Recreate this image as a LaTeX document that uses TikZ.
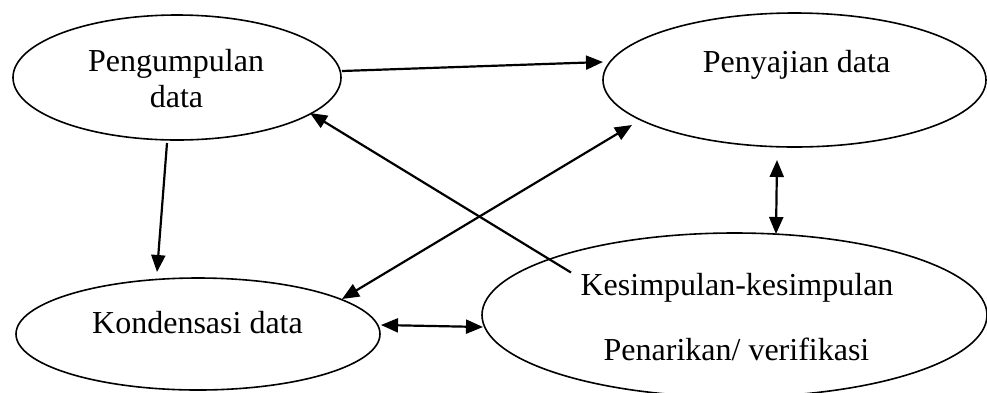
\documentclass[tikz,border=0pt]{standalone}
\usepackage{fontspec}
\setmainfont{Liberation Serif}
\usetikzlibrary{arrows.meta,calc,shapes.geometric}
\begin{document}
\begin{tikzpicture}[x=1pt,y=-1pt,
  bubble/.style={ellipse, draw, line width=1.6pt, inner sep=0pt},
  lbl/.style={font=\fontsize{32}{38}\selectfont, anchor=base, inner sep=0pt},
  arr/.style={line width=2.2pt, -{Triangle[length=17pt,width=14pt]}},
  darr/.style={line width=2.2pt, {Triangle[length=17pt,width=14pt]}-{Triangle[length=17pt,width=14pt]}}]
\useasboundingbox (0,0) rectangle (987,392);
% ellipses
\node[bubble, minimum width=328pt, minimum height=125pt] (e1) at (177,77.5) {};
\node[bubble, minimum width=383pt, minimum height=134pt] (e2) at (794.5,80) {};
\node[bubble, minimum width=364pt, minimum height=112pt] (e3) at (198,334) {};
\node[bubble, minimum width=505pt, minimum height=164pt] (e4) at (734.5,315) {};
% labels
\node[lbl] (t1a) at (176,71) {Pengumpulan};
\node[lbl] (t1b) at (176.5,107) {data};
\node[lbl] (t2) at (796.5,72) {Penyajian data};
\node[lbl] (t3) at (197.5,333) {Kondensasi data};
\node[lbl] (t4a) at (737,295) {Kesimpulan-kesimpulan};
\node[lbl] (t4b) at (736.5,360) {Penarikan/ verifikasi};
% connectors
\draw[arr] ($(e1)+(165,-6.5)$) -- ($(e2)+(-191.5,-18)$);
\draw[arr] ($(e1)+(-10,65.5)$) -- ($(e3)+(-41,-62)$);
\draw[arr] ($(e4)+(-163.5,-42.5)$) -- ($(e1)+(133,35.5)$);
\draw[darr] ($(e3)+(144,-35)$) -- ($(e2)+(-162.5,45)$);
\draw[darr] ($(e2)+(-17.5,80)$) -- ($(e4)+(41.5,-81)$);
\draw[darr] ($(e3)+(183,-9)$) -- ($(e4)+(-251.5,12)$);
\end{tikzpicture}
\end{document}
